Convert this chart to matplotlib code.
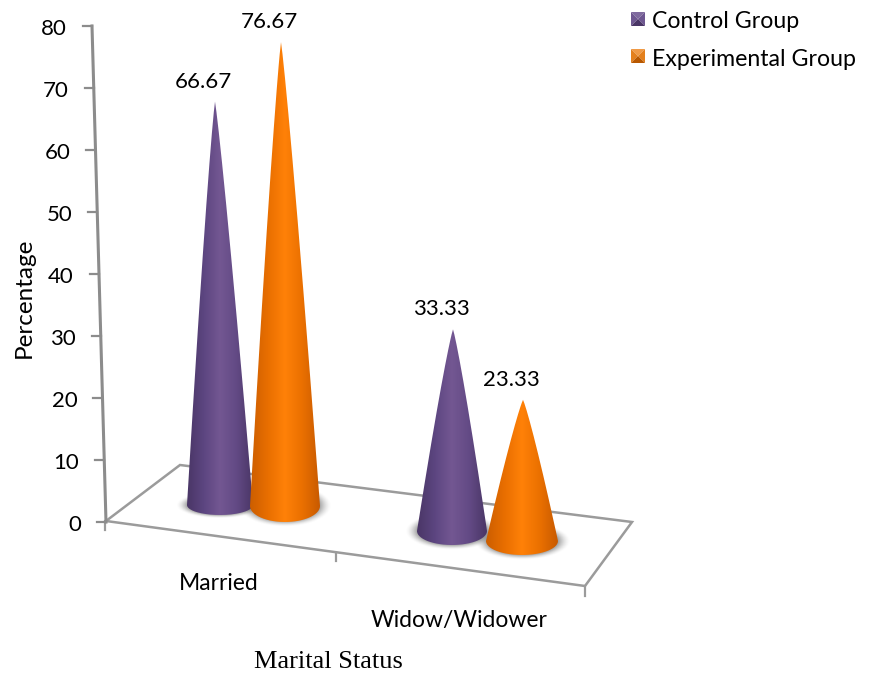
import matplotlib
matplotlib.use("Agg")
import numpy as np
import matplotlib.pyplot as plt
from matplotlib.colors import LinearSegmentedColormap
from matplotlib.patches import Polygon, PathPatch
from matplotlib.path import Path

categories = ["Married", "Widow/Widower"]
control_group = [66.67, 33.33]
experimental_group = [76.67, 23.33]
y_ticks = [0, 10, 20, 30, 40, 50, 60, 70, 80]
series_names = ["Control Group", "Experimental Group"]

plt.rcParams["font.family"] = ["Lato", "DejaVu Sans"]

W, H = 870, 678
CONE_SCALE = 6.05  # 每单位百分比对应的像素高度
AXIS_SCALE = 6.2

purple_cmap = LinearSegmentedColormap.from_list(
    "purple", ["#4a3666", "#5c4580", "#735792", "#634a85", "#4a3666"])
orange_cmap = LinearSegmentedColormap.from_list(
    "orange", ["#cc5e00", "#e86e00", "#ff8108", "#ea7000", "#c85a00"])

fig = plt.figure(figsize=(W / 100, H / 100), dpi=100)
ax = fig.add_axes([0, 0, 1, 1])
ax.axis("off")

GRAY = "#9b9b9b"


def axis_xy(v):
    # 竖轴略微倾斜
    return 106 - v * 14 / 80, 522 - v * AXIS_SCALE


# ---------- 底面 ----------
floor = [(106, 521), (180, 465), (632, 522), (585, 586)]
ax.add_patch(Polygon(floor, closed=True, fill=False, edgecolor=GRAY, linewidth=1.8, zorder=1))
ax.plot([585, 585], [586, 596], color=GRAY, lw=1.6, zorder=1)
ax.plot([336, 336], [553, 561], color=GRAY, lw=1.6, zorder=1)
ax.plot([105, 105], [521, 530], color=GRAY, lw=1.6, zorder=1)

# ---------- 竖轴 ----------
x0, y0 = axis_xy(0)
x1, y1 = axis_xy(y_ticks[-1])
ax.plot([x0, x1], [y0, y1], color="#8c8c8c", lw=2.2, zorder=1)
for t in y_ticks:
    x, y = axis_xy(t)
    ax.plot([x - 9, x], [y, y], color="#8c8c8c", lw=1.6, zorder=1)
    ax.text(x - 25, y + 3, str(t), ha="right", va="center", fontsize=16, color="black")


def draw_shadow(cx, cy, rx, ry):
    xs = np.linspace(-1.45, 1.45, 160)
    ys = np.linspace(-1.9, 1.9, 90)
    xx, yy = np.meshgrid(xs, ys)
    r = np.sqrt(xx ** 2 + yy ** 2)
    a = np.clip((1.33 - r) / 0.33, 0, 1) ** 1.6 * 0.6
    rgba = np.zeros(a.shape + (4,))
    rgba[..., :3] = 0.42
    rgba[..., 3] = a
    ax.imshow(rgba, extent=(cx - rx * 1.45, cx + rx * 1.45, cy + ry * 1.9, cy - ry * 1.9),
              aspect="auto", zorder=2, interpolation="bilinear")


def draw_cone(cx, base_y, tip_x, value, rx, ry, cmap, z):
    tip_y = base_y - value * CONE_SCALE
    # 侧边略向外鼓，接近透视下的锥体
    s = np.linspace(0, 1, 40)
    half = rx * s ** 0.88
    ys = tip_y + (base_y - tip_y) * s
    mid = tip_x + (cx - tip_x) * s
    t = np.linspace(0, np.pi, 60)
    arc = np.column_stack([cx + rx * np.cos(t), base_y + ry * np.sin(t)])
    right = np.column_stack([mid + half, ys])
    left = np.column_stack([mid - half, ys])[::-1]
    verts = np.vstack([right, arc, left])
    clip = PathPatch(Path(verts), facecolor="none", edgecolor="none", transform=ax.transData)
    ax.add_patch(clip)
    grad = np.linspace(0, 1, 256).reshape(1, -1)
    im = ax.imshow(grad, cmap=cmap, extent=(cx - rx, cx + rx, base_y + ry, tip_y),
                   aspect="auto", zorder=z, interpolation="bilinear")
    im.set_clip_path(clip)
    return tip_y


# ---------- 圆锥 ---------- (cx, 底面中心 y, 顶点 x, 半宽, 半高)
cones = [
    (220, 505, 215, control_group[0], 33, 10, purple_cmap),
    (285, 506, 281, experimental_group[0], 35, 16, orange_cmap),
    (452, 531, 453, control_group[1], 35, 14, purple_cmap),
    (522, 541, 523, experimental_group[1], 36, 14, orange_cmap),
]
for cx, by, tx, v, rx, ry, cmap in cones:
    draw_shadow(cx, by, rx, ry)
for i, (cx, by, tx, v, rx, ry, cmap) in enumerate(cones):
    tip_y = draw_cone(cx, by, tx, v, rx, ry, cmap, 3 + i * 0.1)
    ax.text(tx - 12, tip_y - 20, f"{v:.2f}", ha="center", va="center", fontsize=16,
            color="black", zorder=6)

# ---------- 文字 ----------
ax.text(219, 583, categories[0], ha="center", va="center", fontsize=16.5)
ax.text(459, 620, categories[1], ha="center", va="center", fontsize=16.5)
ax.text(24, 298, "Percentage", rotation=90, ha="center", va="center", fontsize=17.5)
ax.text(328, 662, "Marital Status", ha="center", va="center", fontsize=19,
        family=["Liberation Serif"])

# ---------- 图例 ----------
legend_colors = [("#5b4478", "#7f6a9e", "#6e5790", "#4a3666"),
                 ("#d06a10", "#f09a45", "#e4801c", "#b85800")]
for name, (mid, top, side, bottom), ly in zip(series_names, legend_colors, [19, 56]):
    lx0, lx1, ly0, ly1 = 631, 645, ly - 7, ly + 7
    c = ((lx0 + lx1) / 2, ly)
    ax.add_patch(Polygon([(lx0, ly0), (lx1, ly0), c], color=top, lw=0, zorder=3))
    ax.add_patch(Polygon([(lx0, ly0), (lx0, ly1), c], color=side, lw=0, zorder=3))
    ax.add_patch(Polygon([(lx1, ly0), (lx1, ly1), c], color=side, lw=0, zorder=3))
    ax.add_patch(Polygon([(lx0, ly1), (lx1, ly1), c], color=bottom, lw=0, zorder=3))
    ax.text(652, ly + 3, name, ha="left", va="center", fontsize=16.7)

ax.set_xlim(0, W)
ax.set_ylim(H, 0)
fig.savefig("out.png", dpi=100, facecolor="white")
